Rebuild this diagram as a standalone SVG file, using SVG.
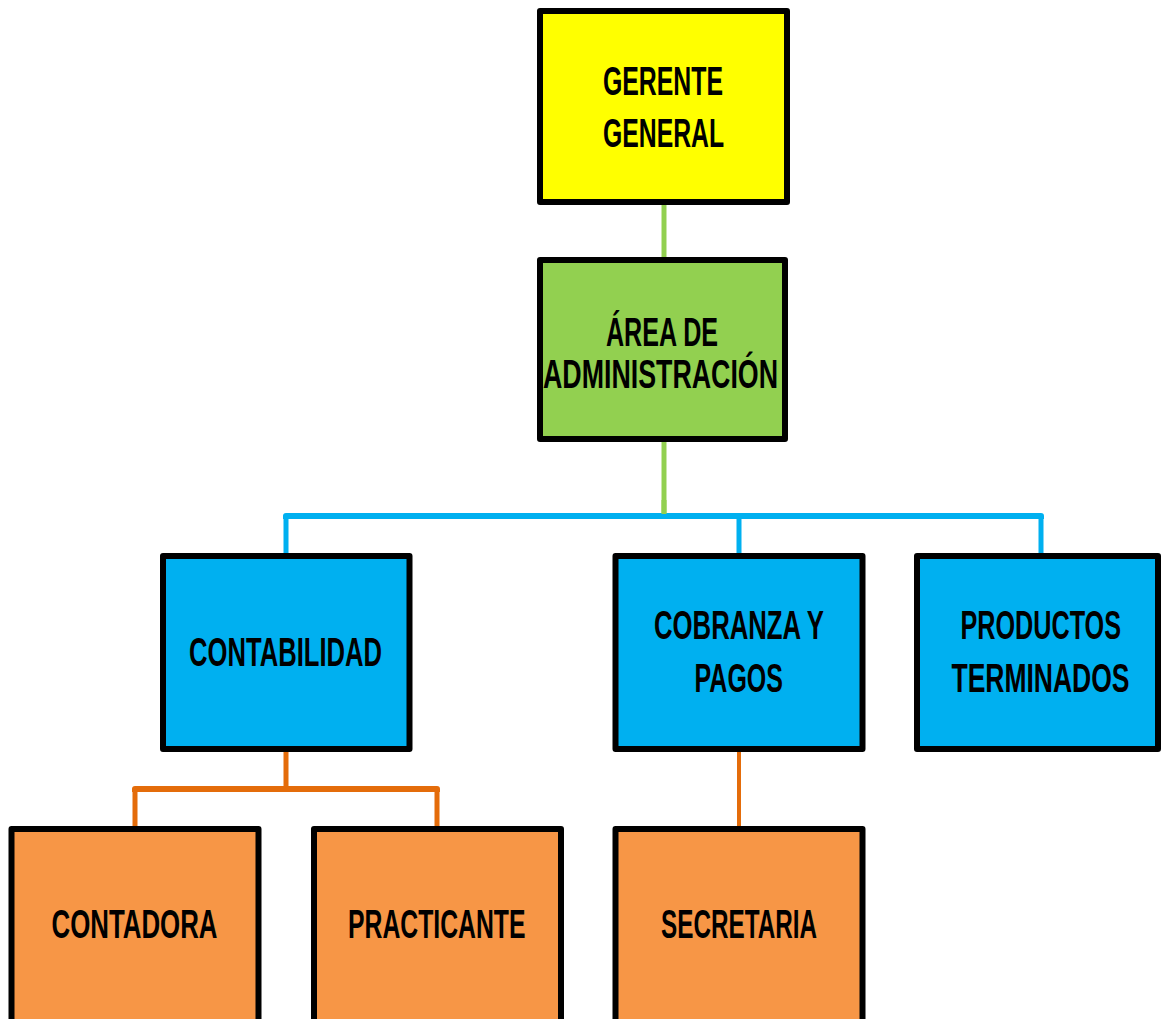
<svg xmlns="http://www.w3.org/2000/svg" width="1161" height="1019" viewBox="0 0 1161 1019">
<style>
.box{stroke:#000;stroke-width:6;stroke-linejoin:round}
.t{font-family:"Liberation Sans",Arial,sans-serif;font-weight:bold;font-size:26px;fill:#000}
.g{stroke:#92D050;stroke-width:5;fill:none}
.b{stroke:#00B0F0;fill:none;stroke-linejoin:round}
.o{stroke:#E46C0A;fill:none;stroke-linejoin:round}
</style>
<rect width="1161" height="1019" fill="#fff"/>
<g id="connectors">
<line class="g" x1="664" y1="203" x2="664" y2="259"/>
<line class="g" x1="664" y1="440" x2="664" y2="516"/>
<path class="b" stroke-width="5" d="M286,555 V516 M739,516 V555 M1041,555 V516"/>
<path class="b" stroke-width="6" d="M286,519 V516 H1041 V519"/>
<line class="g" x1="664" y1="500" x2="664" y2="514"/>
<path class="o" stroke-width="5" d="M286,750 V789 M135,828 V789 M437,828 V789"/>
<path class="o" stroke-width="6" d="M135,792 V789 H437 V792"/>
<line class="o" stroke-width="4" x1="739" y1="750" x2="739" y2="828"/>
</g>
<g id="gerente">
<rect class="box" x="540" y="11" width="247" height="191" fill="#FFFF00"/>
<text class="t" transform="translate(603,95) scale(1,1.55)" textLength="120" lengthAdjust="spacingAndGlyphs">GERENTE</text>
<text class="t" transform="translate(603,146.5) scale(1,1.55)" textLength="121" lengthAdjust="spacingAndGlyphs">GENERAL</text>
</g>
<g id="area">
<rect class="box" x="540" y="260" width="245" height="179" fill="#92D050"/>
<text class="t" transform="translate(606,346) scale(1,1.55)" textLength="112" lengthAdjust="spacingAndGlyphs">ÁREA DE</text>
<text class="t" transform="translate(543,388) scale(1,1.55)" textLength="235" lengthAdjust="spacingAndGlyphs">ADMINISTRACIÓN</text>
</g>
<g id="contabilidad">
<rect class="box" x="163" y="556" width="246.5" height="193" fill="#00B0F0"/>
<text class="t" transform="translate(189,665.5) scale(1,1.55)" textLength="193" lengthAdjust="spacingAndGlyphs">CONTABILIDAD</text>
</g>
<g id="cobranza">
<rect class="box" x="615.5" y="556" width="247" height="193" fill="#00B0F0"/>
<text class="t" transform="translate(654,639) scale(1,1.55)" textLength="170" lengthAdjust="spacingAndGlyphs">COBRANZA Y</text>
<text class="t" transform="translate(694.5,691.5) scale(1,1.55)" textLength="88.5" lengthAdjust="spacingAndGlyphs">PAGOS</text>
</g>
<g id="productos">
<rect class="box" x="917" y="556" width="241" height="193" fill="#00B0F0"/>
<text class="t" transform="translate(960.5,639) scale(1,1.55)" textLength="160.5" lengthAdjust="spacingAndGlyphs">PRODUCTOS</text>
<text class="t" transform="translate(951.5,691.5) scale(1,1.55)" textLength="178" lengthAdjust="spacingAndGlyphs">TERMINADOS</text>
</g>
<g id="contadora">
<rect class="box" x="11.5" y="829" width="247" height="200" fill="#F79646"/>
<text class="t" transform="translate(51.5,938.3) scale(1,1.55)" textLength="166" lengthAdjust="spacingAndGlyphs">CONTADORA</text>
</g>
<g id="practicante">
<rect class="box" x="314" y="829" width="247" height="200" fill="#F79646"/>
<text class="t" transform="translate(348,938.3) scale(1,1.55)" textLength="177.5" lengthAdjust="spacingAndGlyphs">PRACTICANTE</text>
</g>
<g id="secretaria">
<rect class="box" x="615.5" y="829" width="247" height="200" fill="#F79646"/>
<text class="t" transform="translate(661,938.3) scale(1,1.55)" textLength="156" lengthAdjust="spacingAndGlyphs">SECRETARIA</text>
</g>
</svg>
